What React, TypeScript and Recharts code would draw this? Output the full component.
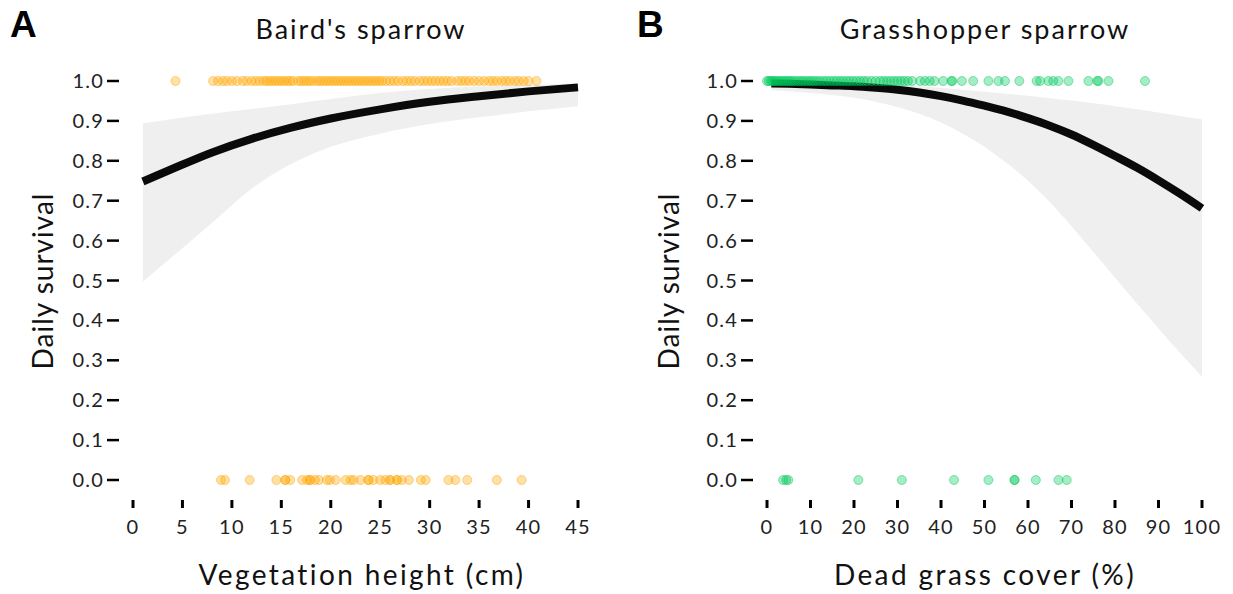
import React from 'react';
import {
  ComposedChart, XAxis, YAxis, Area, Line, Scatter
} from 'recharts';

// Panel A - Baird's sparrow, vegetation height (cm)
const bairdTicksX = [0, 5, 10, 15, 20, 25, 30, 35, 40, 45];
const bairdSurvived = [
  4.3, 8.1, 8.6, 9.1, 9.5, 10.0, 10.5, 11.1, 11.5, 12.0, 12.4, 12.8, 13.2, 13.5,
  13.8, 14.1, 14.4, 14.7, 15.0, 15.3, 15.6, 15.9, 16.2, 16.7, 17.0, 17.3, 17.6,
  17.9, 18.2, 18.6, 18.9, 19.2, 19.5, 19.8, 20.1, 20.4, 20.7, 21.0, 21.3, 21.6,
  21.9, 22.2, 22.5, 22.8, 23.1, 23.4, 23.7, 24.0, 24.3, 24.6, 24.9, 25.2, 25.6,
  26.0, 26.4, 26.8, 27.3, 27.7, 28.1, 28.5, 29.0, 29.4, 29.8, 30.2, 30.6, 31.0,
  31.4, 31.8, 32.2, 32.8, 33.2, 33.6, 34.0, 34.5, 35.0, 35.5, 36.0, 36.4, 36.8,
  37.3, 37.7, 38.1, 38.6, 39.0, 39.5, 40.0, 40.8
];
const bairdFailed = [
  8.9, 9.3, 11.8, 14.5, 15.4, 15.4, 15.9, 17.1, 17.6, 17.9, 17.9, 18.4, 18.8,
  19.6, 19.9, 20.5, 21.5, 22.0, 22.3, 23.0, 23.8, 23.8, 24.3, 25.0, 25.5, 26.0,
  26.0, 26.7, 26.7, 27.2, 27.9, 29.1, 29.6, 31.9, 32.6, 33.8, 36.8, 39.3
];
const bairdCurveX = [1, 4, 8, 12, 16, 20, 25, 30, 35, 40, 45];
const bairdFit = [0.748, 0.78, 0.821, 0.855, 0.883, 0.906, 0.929, 0.948, 0.962, 0.974, 0.984];
const bairdLower = [0.497, 0.56, 0.645, 0.73, 0.792, 0.835, 0.868, 0.892, 0.909, 0.924, 0.937];
const bairdUpper = [0.894, 0.905, 0.918, 0.93, 0.942, 0.955, 0.97, 0.98, 0.986, 0.99, 0.994];

// Panel B - Grasshopper sparrow, dead grass cover (%)
const grassTicksX = [0, 10, 20, 30, 40, 50, 60, 70, 80, 90, 100];
const grassSurvived = [
  0, 0.4, 0.8, 1.2, 1.6, 2.0, 2.5, 3.0, 3.5, 4.0, 4.5, 5.0, 5.5, 6.0, 6.6, 7.2,
  7.8, 8.4, 9.0, 9.6, 10.2, 10.8, 11.5, 12.2, 13.0, 13.7, 14.5, 15.3, 16.0, 16.8,
  17.5, 18.3, 19.0, 19.8, 20.6, 21.4, 22.2, 23.0, 24.0, 25.0, 26.0, 26.8, 27.6,
  28.4, 29.2, 30.0, 30.8, 31.6, 32.4, 33.4, 35.2, 36.3, 37.4, 38.5, 40.5, 42.4,
  42.6, 44.8, 47.4, 50.9, 53.2, 54.7, 58.0, 62.0, 62.8, 64.7, 65.8, 67.0, 69.3,
  73.9, 75.9, 76.2, 78.5, 86.9
];
const grassFailed = [3.7, 4.4, 4.9, 21.0, 31.0, 43.0, 50.9, 56.9, 56.9, 61.8, 67.0, 68.9];
const grassCurveX = [1, 5, 10, 15, 20, 25, 30, 35, 40, 45, 50, 55, 60, 65, 70, 75, 80, 85, 90, 95, 100];
const grassFit = [
  0.994, 0.993, 0.991, 0.989, 0.987, 0.983, 0.978, 0.971, 0.962, 0.951, 0.938,
  0.924, 0.907, 0.888, 0.866, 0.84, 0.812, 0.783, 0.751, 0.717, 0.681
];
const grassLower = [
  0.977, 0.974, 0.97, 0.965, 0.958, 0.948, 0.935, 0.918, 0.896, 0.868, 0.835,
  0.795, 0.75, 0.697, 0.636, 0.572, 0.507, 0.443, 0.38, 0.318, 0.259
];
const grassUpper = [
  0.998, 0.998, 0.997, 0.996, 0.995, 0.993, 0.991, 0.987, 0.983, 0.978, 0.973,
  0.968, 0.963, 0.957, 0.951, 0.944, 0.937, 0.929, 0.921, 0.912, 0.904
];

const yTicks = [0, 0.1, 0.2, 0.3, 0.4, 0.5, 0.6, 0.7, 0.8, 0.9, 1.0];

const FONT = 'Lato, "Open Sans", sans-serif';

const YTick = (props: any) => {
  const { x, y, payload } = props;
  return (
    <g>
      <line x1={x - 26} x2={x - 14} y1={y} y2={y} stroke="#000" strokeWidth={2.5} />
      <text x={x - 29} y={y} dy="0.35em" textAnchor="end" fontSize={20} letterSpacing={1.2} fill="#222" fontFamily={FONT}>
        {Number(payload.value).toFixed(1)}
      </text>
    </g>
  );
};

const XTick = (props: any) => {
  const { x, y, payload } = props;
  return (
    <g>
      <line x1={x} x2={x} y1={y + 20} y2={y + 28} stroke="#000" strokeWidth={3} />
      <text x={x} y={y + 47} dy="0.35em" textAnchor="middle" fontSize={20} letterSpacing={1.2} fill="#222" fontFamily={FONT}>
        {payload.value}
      </text>
    </g>
  );
};

const dotShape = (color: string) => (props: any) => (
  <circle cx={props.cx} cy={props.cy} r={4.5} fill={color} fillOpacity={0.35} stroke={color} strokeOpacity={0.45} strokeWidth={1} />
);

interface PanelProps {
  width: number;
  yAxisWidth: number;
  rightMargin: number;
  domainMax: number;
  ticks: number[];
  curveX: number[];
  fit: number[];
  lower: number[];
  upper: number[];
  survived: number[];
  failed: number[];
  color: string;
}

const Panel: React.FC<PanelProps> = (p) => {
  const curve = p.curveX.map((x, i) => ({ x, fit: p.fit[i], band: [p.lower[i], p.upper[i]] }));
  const points = [
    ...p.survived.map(x => ({ x, y: 1 })),
    ...p.failed.map(x => ({ x, y: 0 })),
  ];
  const shape = dotShape(p.color);
  return (
    <ComposedChart width={p.width} height={594} data={curve} margin={{ top: 81, right: p.rightMargin, bottom: 0, left: 0 }}>
      <XAxis
        type="number"
        dataKey="x"
        domain={[0, p.domainMax]}
        ticks={p.ticks}
        axisLine={false}
        tickLine={false}
        tickSize={0}
        tickMargin={0}
        height={114}
        tick={<XTick />}
        interval={0}
      />
      <YAxis
        type="number"
        domain={[0, 1]}
        ticks={yTicks}
        axisLine={false}
        tickLine={false}
        tickSize={0}
        tickMargin={0}
        width={p.yAxisWidth}
        tick={<YTick />}
        interval={0}
      />
      <Area dataKey="band" type="monotone" fill="#EFEFEF" fillOpacity={1} stroke="none" isAnimationActive={false} />
      <Scatter data={points} dataKey="y" shape={shape} isAnimationActive={false} />
      <Line dataKey="fit" type="monotone" stroke="#0a0a0a" strokeWidth={8} dot={false} isAnimationActive={false} />
    </ComposedChart>
  );
};

const textBase: React.CSSProperties = {
  position: 'absolute',
  fontFamily: FONT,
  color: '#111',
  whiteSpace: 'nowrap',
  lineHeight: 1,
};

const centered = (x: number, y: number, size: number, spacing: number, extra: React.CSSProperties = {}): React.CSSProperties => ({
  ...textBase,
  left: x,
  top: y,
  fontSize: size,
  letterSpacing: spacing,
  transform: 'translate(-50%, -50%)',
  ...extra,
});

export default function App() {
  return (
    <div style={{ position: 'absolute', left: 0, top: 0, width: 1233, height: 594, background: '#fff', overflow: 'hidden' }}>
      <div style={{ position: 'absolute', left: 0, top: 0 }}>
        <Panel
          width={616} yAxisWidth={133} rightMargin={38} domainMax={45} ticks={bairdTicksX}
          curveX={bairdCurveX} fit={bairdFit} lower={bairdLower} upper={bairdUpper}
          survived={bairdSurvived} failed={bairdFailed} color="#FFA500"
        />
      </div>
      <div style={{ position: 'absolute', left: 616, top: 0 }}>
        <Panel
          width={617} yAxisWidth={151} rightMargin={31} domainMax={100} ticks={grassTicksX}
          curveX={grassCurveX} fit={grassFit} lower={grassLower} upper={grassUpper}
          survived={grassSurvived} failed={grassFailed} color="#00C95C"
        />
      </div>

      <div style={{ ...textBase, left: 10, top: 6, fontSize: 37, fontWeight: 700, fontFamily: 'Arial, "Liberation Sans", sans-serif', color: '#000' }}>A</div>
      <div style={{ ...textBase, left: 637, top: 6, fontSize: 37, fontWeight: 700, fontFamily: 'Arial, "Liberation Sans", sans-serif', color: '#000' }}>B</div>

      <div style={centered(361, 28, 27, 2)}>Baird's sparrow</div>
      <div style={centered(985, 28, 27, 2)}>Grasshopper sparrow</div>

      <div style={centered(362, 574, 28, 2.4)}>Vegetation height (cm)</div>
      <div style={centered(985, 574, 28, 2.4)}>Dead grass cover (%)</div>

      <div style={centered(42, 281, 28, 1, { transform: 'translate(-50%, -50%) rotate(-90deg)' })}>Daily survival</div>
      <div style={centered(668, 281, 28, 1, { transform: 'translate(-50%, -50%) rotate(-90deg)' })}>Daily survival</div>
    </div>
  );
}
